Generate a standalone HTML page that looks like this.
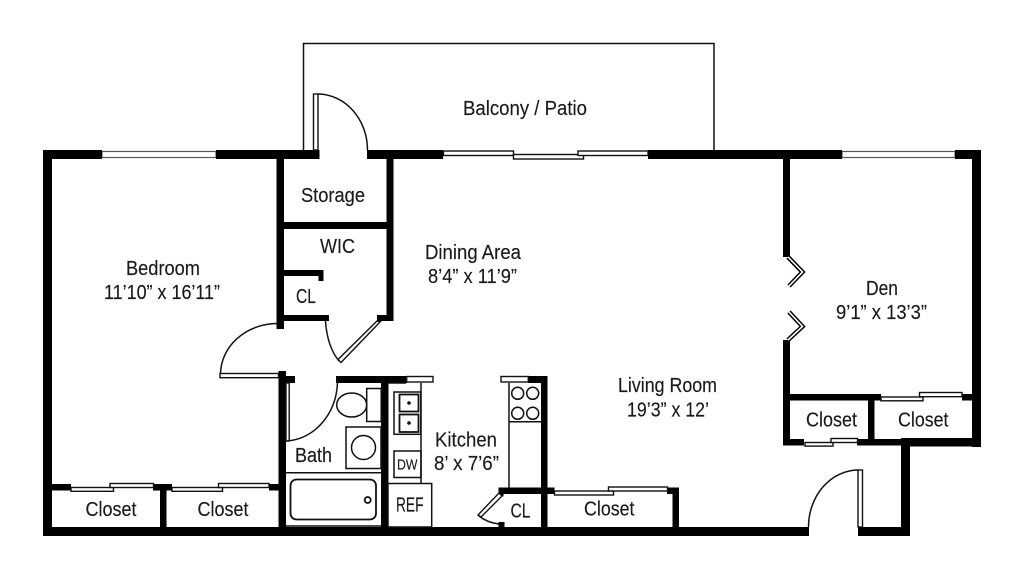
<!DOCTYPE html>
<html>
<head>
<meta charset="utf-8">
<style>
html,body{margin:0;padding:0;background:#fff;width:1024px;height:580px;overflow:hidden}
svg{display:block}
text{font-family:"Liberation Sans Narrow","Liberation Sans",sans-serif;font-size:20.5px;fill:#1a1a1a;stroke:#1a1a1a;stroke-width:.15}
.l{fill:none;stroke:#111;stroke-width:1.5}
.w{fill:#fff;stroke:#111;stroke-width:1.4}
.g{fill:#fff;stroke:#555;stroke-width:1.2}
.t{fill:none;stroke:#111;stroke-width:1.8}
</style>
</head>
<body>
<svg width="1024" height="580" viewBox="0 0 1024 580" xmlns="http://www.w3.org/2000/svg">
<rect width="1024" height="580" fill="#fff"/>
<!-- balcony -->
<path class="l" d="M303.5 150V43.5H714V150"/>
<!-- windows -->
<rect class="g" x="102" y="151.5" width="114" height="6"/>
<rect class="g" x="842" y="151.5" width="113" height="6"/>
<!-- walls -->
<g fill="#000">
<rect x="43" y="150" width="59" height="9"/>
<rect x="216" y="150" width="103.500" height="9"/>
<rect x="367" y="150" width="76" height="9"/>
<rect x="648" y="150" width="194" height="9"/>
<rect x="955" y="150" width="26" height="9"/>
<rect x="43" y="150" width="9" height="386"/>
<rect x="972" y="150" width="9" height="297"/>
<rect x="43" y="527" width="766" height="9"/>
<rect x="858" y="527" width="52" height="9"/>
<rect x="901" y="438" width="9" height="98"/>
<rect x="901" y="438" width="80" height="8.500"/>
<rect x="783" y="439" width="21" height="6.500"/>
<rect x="857" y="439" width="45" height="6.500"/>
<rect x="783" y="159" width="7" height="98"/>
<rect x="783" y="340" width="7" height="105"/>
<rect x="783" y="394" width="98" height="6.500"/>
<rect x="868" y="394" width="6.500" height="50"/>
<rect x="962" y="394" width="10" height="6.500"/>
<!-- storage / wic -->
<rect x="276.500" y="159" width="7.500" height="170"/>
<rect x="386.500" y="159" width="7" height="162"/>
<rect x="276.500" y="222" width="117" height="7"/>
<rect x="276.500" y="270" width="47" height="6"/>
<rect x="318.500" y="270" width="5" height="11"/>
<rect x="276.500" y="315" width="52.500" height="6"/>
<rect x="377" y="315" width="16.500" height="6"/>
<!-- bath -->
<rect x="278.500" y="371" width="7.500" height="157"/>
<rect x="278.500" y="376" width="16.500" height="7"/>
<rect x="336" y="376" width="71" height="7"/>
<rect x="381" y="376" width="7.500" height="152"/>
<!-- bedroom closets -->
<rect x="52" y="484" width="19" height="6.500"/>
<rect x="153" y="484" width="19" height="6.500"/>
<rect x="160" y="484" width="6.500" height="44"/>
<rect x="269" y="484" width="10" height="6.500"/>
<!-- kitchen right -->
<rect x="528" y="376" width="19.500" height="7"/>
<rect x="541" y="376" width="6.500" height="152"/>
<rect x="498.500" y="487.500" width="56" height="6.500"/>
<rect x="498.500" y="487.500" width="5" height="9"/>
<rect x="498.500" y="522" width="6" height="6"/>
<rect x="667" y="487.500" width="12" height="6.500"/>
<rect x="672.500" y="487.500" width="6.500" height="40"/>
</g>
<!-- sliding doors -->
<rect class="w" x="443.500" y="151" width="70" height="4.500"/>
<rect class="w" x="513.500" y="154.500" width="70" height="4.500"/>
<rect class="w" x="578" y="151" width="70" height="4.500"/>
<rect class="w" x="71" y="487.500" width="42.500" height="3.800"/>
<rect class="w" x="110" y="483.500" width="43.500" height="4"/>
<rect class="w" x="172" y="487.500" width="50.500" height="3.800"/>
<rect class="w" x="218.500" y="483.500" width="50.500" height="4"/>
<rect class="w" x="554.500" y="491" width="59" height="4"/>
<rect class="w" x="608.500" y="487" width="59" height="4"/>
<rect class="w" x="881" y="397" width="42" height="3.800"/>
<rect class="w" x="919.500" y="392.500" width="42.500" height="4.200"/>
<rect class="w" x="805" y="442.500" width="28" height="3.600"/>
<rect class="w" x="831" y="438.500" width="26.500" height="4"/>
<!-- swing doors -->
<rect class="w" x="313.500" y="94" width="4.500" height="56"/>
<path class="l" d="M318 94A50 56 0 0 1 367.500 150"/>
<rect class="w" x="220" y="373.500" width="58.500" height="4.200"/>
<path class="l" d="M220.500 374A57 51 0 0 1 277 323.500"/>
<path class="w" d="M377 321L380.500 321.500L341 362.500L338 359.500Z"/>
<path class="l" d="M325.500 321C326.500 336 330 350 339 361"/>
<rect class="w" x="286" y="383" width="3.200" height="58"/>
<path class="l" d="M287 441C314 439 336 415 337.500 383"/>
<rect class="w" x="858" y="470" width="4.500" height="57"/>
<path class="l" d="M858 470A50 57 0 0 0 808.500 527"/>
<path class="w" d="M499 493L502 496L481 517L478 515Z"/>
<path class="l" d="M479 516C484 520 491 523 498.500 524"/>
<!-- bifold -->
<g fill="none">
<path stroke="#000" stroke-width="4.500" d="M788 257L802.500 272L789 286"/>
<path stroke="#fff" stroke-width="1.600" d="M788 257L802.500 272L789 286"/>
<path stroke="#000" stroke-width="4.500" d="M789 312L802.500 326.500L788 340"/>
<path stroke="#fff" stroke-width="1.600" d="M789 312L802.500 326.500L788 340"/>
</g>
<!-- bath fixtures -->
<path class="l" d="M285.500 472.700H381"/>
<path class="l" d="M285.500 526H381"/>
<ellipse class="l" cx="351.700" cy="405" rx="15" ry="12"/>
<rect class="l" x="366.700" y="388.500" width="14.500" height="33"/>
<rect class="l" x="346" y="427" width="35" height="41.500"/>
<circle class="l" cx="363.500" cy="447.500" r="12"/>
<rect class="t" x="290.500" y="479.500" width="85.500" height="40" rx="6"/>
<circle class="t" cx="367.700" cy="500" r="3"/>
<!-- kitchen left -->
<path class="l" d="M421 383V483.500"/>
<path class="l" d="M388 383H406"/>
<rect class="l" x="394" y="392" width="26.800" height="42.300"/>
<rect class="t" x="399.500" y="394.500" width="19" height="17"/>
<rect class="t" x="399.500" y="414.500" width="19" height="17.500"/>
<circle cx="409" cy="403" r="1.800" fill="#111"/>
<circle cx="409" cy="423" r="1.800" fill="#111"/>
<rect class="l" x="394" y="451" width="27" height="26.500"/>
<rect class="l" x="388" y="483.500" width="43.700" height="43.500"/>
<rect class="w" x="406.700" y="376.500" width="26.300" height="5.500"/>
<!-- kitchen right fixtures -->
<rect class="w" x="501" y="376.500" width="27.300" height="5.500"/>
<path class="l" d="M509 383V488"/>
<path class="l" d="M509 421.700H541"/>
<circle class="l" cx="517.700" cy="393.300" r="6"/>
<circle class="l" cx="532.700" cy="393.300" r="6"/>
<circle class="l" cx="517.700" cy="413.300" r="6"/>
<circle class="l" cx="532.700" cy="413.300" r="6"/>
<!-- labels -->
<text x="463" y="115" textLength="124" lengthAdjust="spacingAndGlyphs">Balcony / Patio</text>
<text x="301" y="202" textLength="64" lengthAdjust="spacingAndGlyphs">Storage</text>
<text x="320" y="253" textLength="35" lengthAdjust="spacingAndGlyphs">WIC</text>
<text x="296" y="303" textLength="20" lengthAdjust="spacingAndGlyphs">CL</text>
<text x="126" y="275" textLength="74" lengthAdjust="spacingAndGlyphs">Bedroom</text>
<text x="104" y="299" textLength="116" lengthAdjust="spacingAndGlyphs">11’10” x 16’11”</text>
<text x="425" y="259" textLength="96" lengthAdjust="spacingAndGlyphs">Dining Area</text>
<text x="428" y="283" textLength="89" lengthAdjust="spacingAndGlyphs">8’4” x 11’9”</text>
<text x="866" y="295" textLength="32" lengthAdjust="spacingAndGlyphs">Den</text>
<text x="836" y="319" textLength="91" lengthAdjust="spacingAndGlyphs">9’1” x 13’3”</text>
<text x="618" y="392" textLength="99" lengthAdjust="spacingAndGlyphs">Living Room</text>
<text x="627" y="416.500" textLength="82" lengthAdjust="spacingAndGlyphs">19’3” x 12’</text>
<text x="435" y="446.500" textLength="62" lengthAdjust="spacingAndGlyphs">Kitchen</text>
<text x="434" y="470" textLength="65" lengthAdjust="spacingAndGlyphs">8’ x 7’6”</text>
<text x="295" y="462" textLength="37" lengthAdjust="spacingAndGlyphs">Bath</text>
<text x="85.500" y="516" textLength="51" lengthAdjust="spacingAndGlyphs">Closet</text>
<text x="197.500" y="516" textLength="51" lengthAdjust="spacingAndGlyphs">Closet</text>
<text x="584" y="515.500" textLength="50.500" lengthAdjust="spacingAndGlyphs">Closet</text>
<text x="806" y="426.500" textLength="51" lengthAdjust="spacingAndGlyphs">Closet</text>
<text x="898" y="426.500" textLength="50.500" lengthAdjust="spacingAndGlyphs">Closet</text>
<text x="396" y="511.500" textLength="27.500" lengthAdjust="spacingAndGlyphs">REF</text>
<text x="510.500" y="517.500" textLength="20" lengthAdjust="spacingAndGlyphs">CL</text>
<text x="397" y="469.500" textLength="20.500" lengthAdjust="spacingAndGlyphs" style="font-size:15px">DW</text>
</svg>
</body>
</html>
